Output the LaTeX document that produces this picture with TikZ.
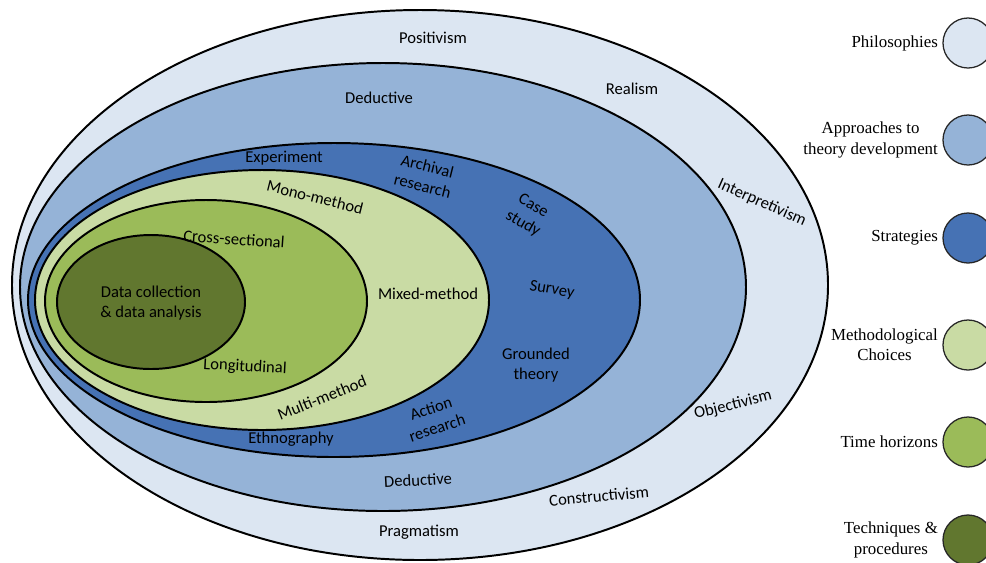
\documentclass[tikz,border=0pt]{standalone}
\usepackage{fontspec}
\setmainfont{Liberation Serif}
\newfontfamily\labelfont{Carlito}
\usepackage{xcolor}
\usetikzlibrary{positioning}

\definecolor{philo}{HTML}{DCE6F2}
\definecolor{approach}{HTML}{95B3D7}
\definecolor{strategy}{HTML}{4672B4}
\definecolor{choice}{HTML}{C9DBA4}
\definecolor{horizon}{HTML}{9BBB59}
\definecolor{technique}{HTML}{61772F}

\tikzstyle{layer} = [draw=black, line width=1.4pt]
\tikzstyle{tag} = [font=\labelfont\fontsize{11.8}{14.5}\selectfont, align=center, inner sep=0pt]
\tikzstyle{key} = [circle, minimum size=1.25cm, inner sep=0pt, draw=black!85, line width=0.9pt]
\tikzstyle{keytext} = [font=\fontsize{12}{14.5}\selectfont, align=center, inner sep=1pt]

\begin{document}
\begin{tikzpicture}[x=0.025cm, y=0.025cm]
            \useasboundingbox (0,0) rectangle (986,-562);
            \clip (0,0) rectangle (986,-562);

            % Draw the layers, outside in
            \draw[layer, fill=philo] (420,-285) ellipse [x radius=408, y radius=275];
            \draw[layer, fill=approach] (383,-287) ellipse [x radius=363, y radius=224];
            \draw[layer, fill=strategy] (334,-300) ellipse [x radius=306, y radius=157];
            \draw[layer, fill=choice] (262,-300) ellipse [x radius=227, y radius=130];
            \draw[layer, fill=horizon] (206,-301) ellipse [x radius=161, y radius=101];
            \draw[layer, fill=technique] (151,-302) ellipse [x radius=94, y radius=67];

            % Philosophies
            \node(positivism) [tag] at (433,-38) {Positivism};
            \node(realism) [tag] at (632,-89) {Realism};
            \node(interp) [tag, rotate=-24] at (762,-203) {Interpretivism};
            \node(objectiv) [tag, rotate=14] at (733,-405) {Objectivism};
            \node(construct) [tag, rotate=5] at (599,-496) {Constructivism};
            \node(pragmat) [tag] at (419,-532) {Pragmatism};

            % Approaches
            \node(deductop) [tag] at (379,-98) {Deductive};
            \node(deducbot) [tag, rotate=3] at (418,-480) {Deductive};

            % Strategies
            \node(experiment) [tag] at (284,-158) {Experiment};
            \node(archival) [tag, rotate=-14] at (425,-176) {Archival\\research};
            \node(casestudy) [tag, rotate=-30] at (528,-215) {Case\\study};
            \node(survey) [tag, rotate=-10] at (552,-290) {Survey};
            \node(grounded) [tag] at (536,-365) {Grounded\\theory};
            \node(action) [tag, rotate=18] at (434,-418) {Action\\research};
            \node(ethno) [tag] at (291,-439) {Ethnography};

            % Methodological choices
            \node(mono) [tag, rotate=-14] at (315,-197) {Mono-method};
            \node(mixed) [tag] at (428,-294) {Mixed-method};
            \node(multi) [tag, rotate=22] at (322,-398) {Multi-method};

            % Time horizons
            \node(cross) [tag, rotate=-4] at (234,-239) {Cross-sectional};
            \node(longit) [tag, rotate=-3] at (245,-367) {Longitudinal};

            % Techniques
            \node(datacoll) [tag] at (151,-303) {Data collection\\\& data analysis};

            % Draw the key
            \node(kphilo) [key, fill=philo] at (968,-43) {};
            \node(kapproach) [key, fill=approach] at (968,-140) {};
            \node(kstrategy) [key, fill=strategy] at (968,-238) {};
            \node(kchoice) [key, fill=choice] at (968,-345) {};
            \node(khorizon) [key, fill=horizon] at (968,-442) {};
            \node(ktechnique) [key, fill=technique] at (968,-540) {};

            \node[keytext, left=2pt of kphilo] {Philosophies};
            \node[keytext, left=2pt of kapproach] {Approaches to\\theory development};
            \node[keytext, left=2pt of kstrategy] {Strategies};
            \node[keytext, left=2pt of kchoice] {Methodological\\Choices};
            \node[keytext, left=2pt of khorizon] {Time horizons};
            \node[keytext, left=2pt of ktechnique] {Techniques \&\\procedures};
        \end{tikzpicture}
\end{document}
